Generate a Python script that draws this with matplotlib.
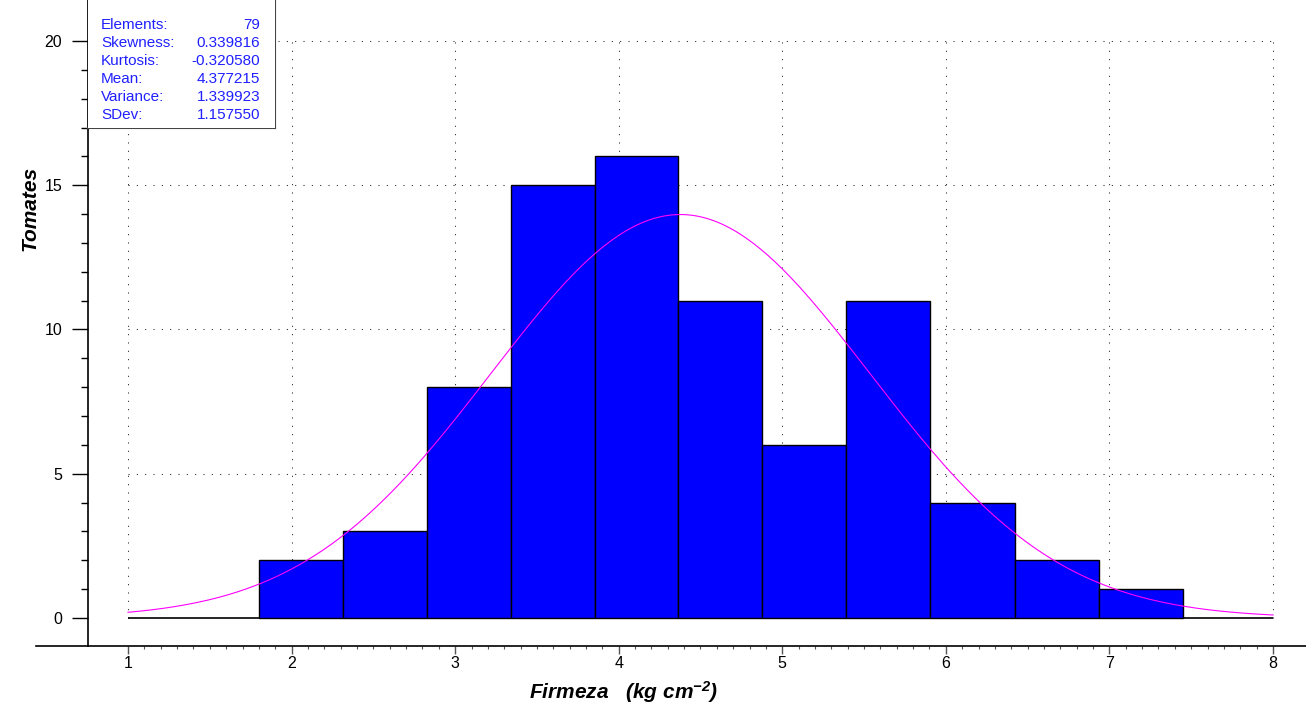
import matplotlib
matplotlib.use('Agg')
import matplotlib.pyplot as plt
from matplotlib.patches import Rectangle
from matplotlib.lines import Line2D
import numpy as np

plt.rcParams['font.family'] = ['Liberation Sans', 'DejaVu Sans']
plt.rcParams['mathtext.default'] = 'regular'

# histogram
bin_edges = [1.80, 2.314, 2.83, 3.34, 3.855, 4.365, 4.877, 5.39, 5.905, 6.42, 6.935, 7.45]
counts = [2, 3, 8, 15, 16, 11, 6, 11, 4, 2, 1]

# summary stats shown in the box
stat_names = ['Elements:', 'Skewness:', 'Kurtosis:', 'Mean:', 'Variance:', 'SDev:']
stat_values = ['79', '0.339816', '-0.320580', '4.377215', '1.339923', '1.157550']
n_elem = 79
mean = 4.377215
sdev = 1.157550

xticks = [1, 2, 3, 4, 5, 6, 7, 8]
yticks = [0, 5, 10, 15, 20]

W, H = 1306, 706
fig = plt.figure(figsize=(W / 100, H / 100), dpi=100)
ax = fig.add_axes([36 / W, (H - 646) / H, 1270 / W, 646 / H])

# fitted normal curve, scaled to counts
width = np.mean(np.diff(bin_edges))
xs = np.linspace(1, 8, 300)
ys = n_elem * width * np.exp(-0.5 * ((xs - mean) / sdev) ** 2) / (sdev * np.sqrt(2 * np.pi))

# dotted grid, only inside 1..8 x 0..20
ax.hlines(yticks[1:], 1, 8, colors='#222222', linestyles=(0, (1, 7)), lw=0.75, zorder=1)
ax.vlines(xticks, 0, 20, colors='#222222', linestyles=(0, (1, 7)), lw=0.75, zorder=1)
ax.hlines(0, 1, 8, colors='black', lw=1.2, zorder=2)

lefts = bin_edges[:-1]
widths = np.diff(bin_edges)
ax.bar(lefts, counts, width=widths, align='edge', color='#0000ff',
       edgecolor='black', linewidth=1, zorder=3)
ax.plot(xs, ys, color='#ff00ff', lw=0.8, zorder=4)

ax.set_xlim(0.4375, 8.2018)
ax.set_ylim(-0.9705, 21.42)

for s in ['top', 'right']:
    ax.spines[s].set_visible(False)
ax.spines['left'].set_position(('data', 0.7555))
ax.spines['left'].set_linewidth(1.2)
ax.spines['bottom'].set_linewidth(1.2)

ax.set_xticks(xticks)
ax.set_xticks(np.arange(10, 81) / 10, minor=True)
ax.set_yticks(yticks)
ax.set_yticks(np.arange(1, 20), minor=True)

ax.tick_params(axis='y', which='major', length=11.5, width=1, pad=7, labelsize=11.5)
ax.tick_params(axis='y', which='minor', length=5, width=1)
ax.tick_params(axis='x', which='major', length=5.5, width=1, pad=2, labelsize=11.5, color='#555555')
ax.tick_params(axis='x', which='minor', length=2.5, width=0.8, color='#555555')

# stats box
box = Rectangle((88 / W, 1 - 128 / H), 187 / W, 128 / H, transform=fig.transFigure,
                facecolor='white', edgecolor='none', zorder=10)
fig.patches.append(box)
fig.add_artist(Line2D([88 / W, 88 / W], [1, 1 - 128 / H], color='black', lw=1))
fig.add_artist(Line2D([88 / W, 275 / W], [1 - 128 / H, 1 - 128 / H], color='#444444', lw=1.5))
fig.add_artist(Line2D([275 / W, 275 / W], [1, 1 - 128 / H], color='#444444', lw=1.5))
for i, (nm, val) in enumerate(zip(stat_names, stat_values)):
    yy = 1 - (25 + i * 18) / H
    fig.text(101 / W, yy, nm, color='#2020ff', fontsize=11, va='center', ha='left', zorder=11)
    fig.text(260 / W, yy, val, color='#2020ff', fontsize=11, va='center', ha='right', zorder=11)

fig.text(30 / W, 1 - 208 / H, 'Tomates', rotation=90, fontsize=15, fontweight='bold',
         fontstyle='italic', ha='center', va='center')
fig.text(624 / W, 1 - 692 / H, 'Firmeza   (kg cm$^{-2}$)', fontsize=15, fontweight='bold',
         fontstyle='italic', ha='center', va='center')

fig.savefig('out.png', dpi=100)
